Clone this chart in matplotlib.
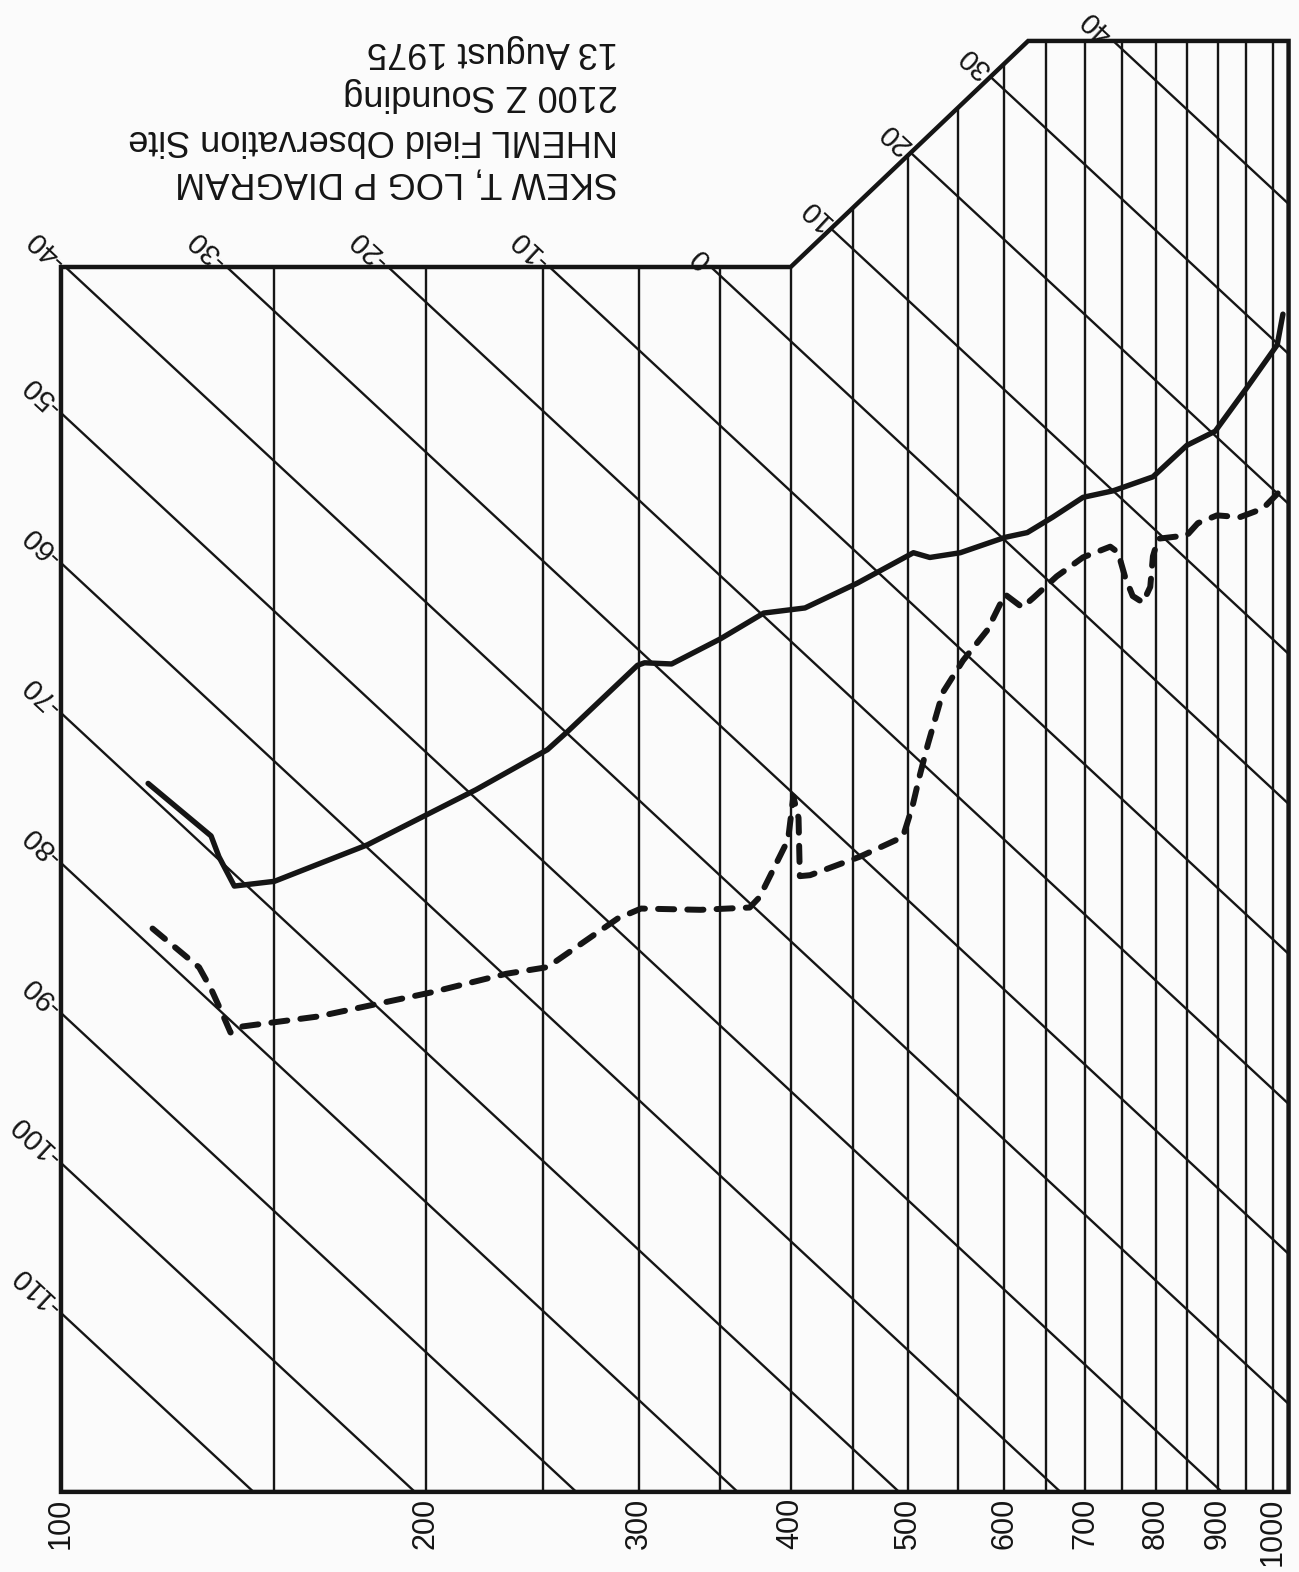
import numpy as np
import matplotlib.pyplot as plt
from matplotlib.patches import Polygon

# chart grid: isobars (mb) and isotherms (deg C)
isobars = [100, 150, 200, 250, 300, 350, 400, 450, 500, 550, 600,
           650, 700, 750, 800, 850, 900, 950, 1000]
isotherms = [-110, -100, -90, -80, -70, -60, -50, -40, -30, -20, -10,
             0, 10, 20, 30, 40]
label_pressures = [100, 200, 300, 400, 500, 600, 700, 800, 900, 1000]
pressure_labels = ["100", "200", "300", "400", "500", "600", "700",
                   "800", "900", "1000"]

# 2100 Z sounding, temperature
temp_p = [118, 133, 135, 139, 150, 179, 220, 252, 262, 299, 303, 319, 350,
          380, 411, 454, 505, 521, 552, 601, 627, 658, 697, 738, 796, 849,
          896, 952, 1008, 1019]
temp_t = [-69.3, -68.9, -69.8, -70.8, -68.0, -59.8, -49.4, -42.3, -39.8,
          -31.1, -30.5, -28.9, -24.2, -19.8, -16.9, -12.0, -6.5, -5.8, -3.6,
          0.2, 1.9, 4.5, 7.7, 10.0, 13.4, 17.6, 20.3, 25.2, 29.9, 32.3]

# dew point
dew_p = [119, 130, 133, 136, 138, 141, 163, 202, 233, 252, 288, 301, 337,
         370, 377, 398, 402, 406, 407, 415, 456, 495, 504, 511, 519, 534,
         555, 581, 601, 621, 634, 663, 697, 734, 745, 755, 766, 781, 792,
         796, 804, 849, 867, 899, 939, 981, 1013, 1019]
dew_t = [-78.7, -78.4, -79.1, -80.1, -80.8, -79.7, -74.3, -65.7, -59.8,
         -56.8, -49.2, -47.1, -43.5, -40.3, -39.0, -33.4, -30.2, -31.3,
         -35.1, -34.4, -30.1, -26.1, -23.5, -21.0, -18.4, -14.0, -10.6,
         -7.1, -3.6, -3.4, -2.1, 0.8, 3.7, 6.1, 6.2, 5.0, 4.2, 4.4, 5.9,
         8.1, 9.6, 11.6, 13.1, 14.8, 16.1, 18.1, 20.3, 20.9]

title_lines = ["SKEW T, LOG P DIAGRAM", "NHEML Field Observation Site",
               "2100 Z Sounding", "13 August 1975"]

SKEW = 75.1  # deg C of skew per decade of pressure
INK = "#151515"
FONT = ["Liberation Sans", "DejaVu Sans"]

# frame of the printed chart (skewed coordinate)
P_LEFT, P_RIGHT = 100, 1030
P_CUT1, P_CUT2 = 400, 628
Y_BOT, Y_TOP1, Y_TOP2 = -121.93, -40.27, -25.2


def skew(t, p):
    return np.asarray(t, dtype=float) - SKEW * np.log10(np.asarray(p, dtype=float) / 100.0)


def upper_end(t):
    # where an isotherm leaves the frame at its upper-left end
    if t <= Y_TOP1:
        return 100.0, float(t)
    L = (t - Y_TOP1) / SKEW
    L1, L2 = np.log10(P_CUT1 / 100), np.log10(P_CUT2 / 100)
    if L <= L1:
        return 100 * 10 ** L, Y_TOP1
    m = (Y_TOP2 - Y_TOP1) / (L2 - L1)
    L = (t - Y_TOP1 + m * L1) / (SKEW + m)
    if L <= L2:
        return 100 * 10 ** L, t - SKEW * L
    L = (t - Y_TOP2) / SKEW
    return 100 * 10 ** L, Y_TOP2


fig = plt.figure(figsize=(12.99, 15.72), dpi=100, facecolor="#fbfbfb")
ax = fig.add_axes([0, 0, 1, 1])
ax.set_xscale("log")
ax.set_xlim(89.06, 1050.6)
ax.set_ylim(-127.27, -22.47)
ax.axis("off")

verts = [(P_LEFT, Y_BOT), (P_LEFT, Y_TOP1), (P_CUT1, Y_TOP1), (P_CUT2, Y_TOP2),
         (P_RIGHT, Y_TOP2), (P_RIGHT, Y_BOT)]
clip = Polygon(verts, closed=True, fill=False, ec="none", transform=ax.transData)
ax.add_patch(clip)
ax.add_patch(Polygon(verts, closed=True, fill=False, ec=INK, lw=3.2,
                     joinstyle="miter", zorder=4))

for p in isobars:
    ax.plot([p, p], [Y_BOT, Y_TOP2], color=INK, lw=1.7, clip_path=clip, zorder=2)

pp = np.array([89.0, 1051.0])
for t in isotherms:
    ax.plot(pp, skew(t, pp), color=INK, lw=1.7, clip_path=clip, zorder=2)

# isotherm labels, laid along the lines
a = ax.transData.transform([(100, skew(0, 100)), (1000, skew(0, 1000))])
ang = np.degrees(np.arctan2(a[0, 1] - a[1, 1], a[0, 0] - a[1, 0]))
off = 4.0 * np.array([np.cos(np.radians(ang)), np.sin(np.radians(ang))])
for t in isotherms:
    pe, ye = upper_end(t)
    ax.annotate(str(t), xy=(pe, ye), xytext=(off[0], off[1]),
                textcoords="offset points", rotation=ang, rotation_mode="anchor",
                ha="left", va="center", fontsize=21, color=INK, family=FONT)

for p, lab in zip(label_pressures, pressure_labels):
    ax.annotate(lab, xy=(p, Y_BOT), xytext=(0, -4), textcoords="offset points",
                rotation=90, ha="center", va="top", fontsize=22, color=INK,
                family=FONT)

# sounding
ax.plot(temp_p, skew(temp_t, temp_p), color=INK, lw=3.9, solid_joinstyle="round",
        solid_capstyle="round", zorder=5)
ax.plot(dew_p, skew(dew_t, dew_p), color=INK, lw=4.3, linestyle=(0, (2.7, 2.2)),
        dash_capstyle="round", zorder=5)

# upside-down title block
base = [173, 130, 85, 42]
for line, b in zip(title_lines, base):
    fig.text(618 / 1299, 1 - b / 1572, line, rotation=180, rotation_mode="anchor",
             ha="left", va="baseline", fontsize=26, color=INK, family=FONT)

fig.savefig("out.png", dpi=100, facecolor=fig.get_facecolor())
